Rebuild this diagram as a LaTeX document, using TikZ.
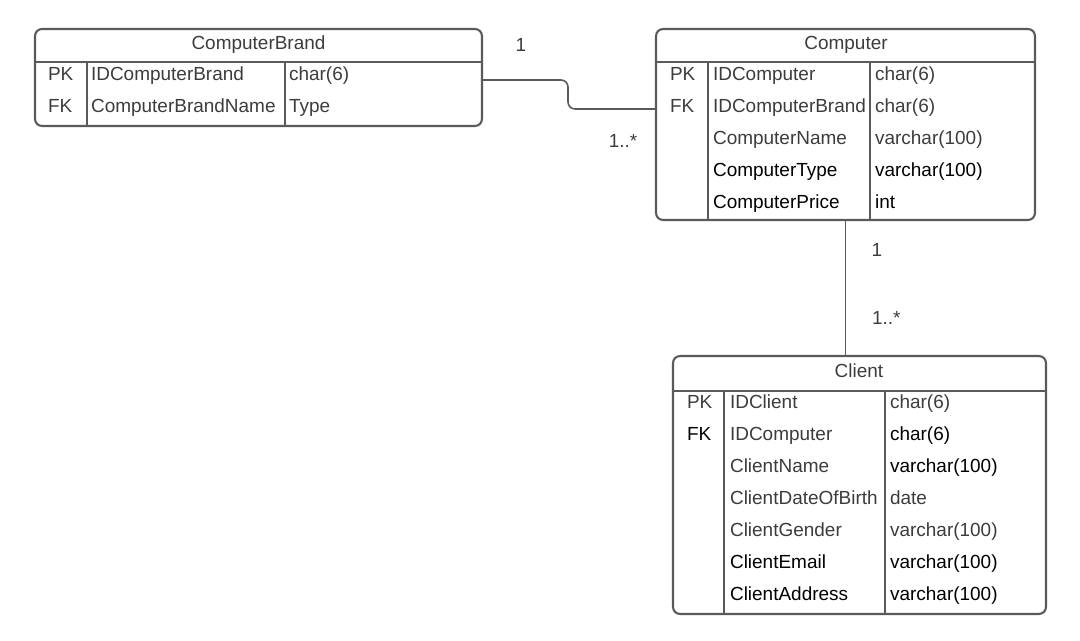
\documentclass[tikz,border=0pt]{standalone}
\usepackage{fontspec}
\setmainfont{Liberation Sans}
\usetikzlibrary{calc}

\definecolor{linegray}{HTML}{5A5A5A}
\definecolor{txtgray}{HTML}{3C3C3C}

\begin{document}
\begin{tikzpicture}[x=0.02cm,y=-0.02cm,line width=1.2pt,draw=linegray,
    font=\fontsize{10.8}{13}\selectfont]
    \tikzstyle{tablebox}=[draw=linegray,rounded corners=4pt,inner sep=0pt]
    \tikzstyle{tabletitle}=[inner sep=0pt,text=txtgray,text height=8pt,text depth=2.4pt]
    \tikzstyle{cell}=[anchor=west,inner sep=0pt,text height=8pt,text depth=2.4pt]
    \tikzstyle{mult}=[inner sep=0pt,text=txtgray,text height=8pt,text depth=2.4pt]
    \tikzstyle{relation}=[line width=0.9pt,rounded corners=4pt]

    \useasboundingbox (0,0) rectangle (1080,641);

    % ComputerBrand table
    \node[tablebox,minimum width=8.94cm,minimum height=1.94cm] (brand) at (258.5,77.5) {};
    \node[tabletitle] (brand-title) at (258.5,45) {ComputerBrand};
    \draw (brand.west |- 0,62) -- (brand.east |- 0,62);
    \draw (87,62) -- (87,126);
    \draw (285,62) -- (285,126);
    \foreach \k [count=\i] in {PK,FK}
        \node[cell,text=txtgray] (brand-k\i) at (47,44+32*\i) {\k};
    \foreach \f/\t/\a/\b [count=\i] in {IDComputerBrand/char(6)/txtgray/txtgray,
            ComputerBrandName/Type/txtgray/txtgray} {
        \node[cell,text=\a] (brand-f\i) at (90,44+32*\i) {\f};
        \node[cell,text=\b] (brand-t\i) at (288,44+32*\i) {\t};
    }

    % Computer table
    \node[tablebox,minimum width=7.58cm,minimum height=3.82cm] (computer) at (845.5,124.5) {};
    \node[tabletitle] (computer-title) at (846,45) {Computer};
    \draw (computer.west |- 0,62) -- (computer.east |- 0,62);
    \draw (708,62) -- (708,220);
    \draw (870,62) -- (870,220);
    \foreach \k [count=\i] in {PK,FK}
        \node[cell,text=txtgray] (computer-k\i) at (669,44+32*\i) {\k};
    \foreach \f/\t/\a/\b [count=\i] in {IDComputer/char(6)/txtgray/txtgray,
            IDComputerBrand/char(6)/txtgray/txtgray,
            ComputerName/varchar(100)/txtgray/txtgray,
            ComputerType/varchar(100)/black/black,
            ComputerPrice/int/black/black} {
        \node[cell,text=\a] (computer-f\i) at (712,44+32*\i) {\f};
        \node[cell,text=\b] (computer-t\i) at (874,44+32*\i) {\t};
    }

    % Client table
    \node[tablebox,minimum width=7.46cm,minimum height=5.16cm] (client) at (859.5,485) {};
    \node[tabletitle] (client-title) at (859,373) {Client};
    \draw (client.west |- 0,391) -- (client.east |- 0,391);
    \draw (724,391) -- (724,614);
    \draw (885,391) -- (885,614);
    \foreach \k/\a [count=\i] in {PK/txtgray,FK/black}
        \node[cell,text=\a] (client-k\i) at (686,372+32*\i) {\k};
    \foreach \f/\t/\a/\b [count=\i] in {IDClient/char(6)/txtgray/txtgray,
            IDComputer/char(6)/txtgray/black,
            ClientName/varchar(100)/txtgray/black,
            ClientDateOfBirth/date/txtgray/txtgray,
            ClientGender/varchar(100)/txtgray/txtgray,
            ClientEmail/varchar(100)/black/black,
            ClientAddress/varchar(100)/black/black} {
        \node[cell,text=\a] (client-f\i) at (729,372+32*\i) {\f};
        \node[cell,text=\b] (client-t\i) at (889,372+32*\i) {\t};
    }

    % Relationships
    \draw[relation] ($(brand.east |- brand-f1)+(0,4)$) -- (568,80)
        -- (568,109) -- ($(computer.west |- computer-f2)+(0,1)$);
    \draw[relation] (computer.south) -- (client.north -| computer.south);

    % Multiplicities
    \node[mult] (brand-one) at (521,47) {1};
    \node[mult] (computer-many) at (623,143) {1..*};
    \node[mult] (computer-one) at (877,252) {1};
    \node[mult,anchor=west] (client-many) at (871,320) {1..*};
\end{tikzpicture}
\end{document}
